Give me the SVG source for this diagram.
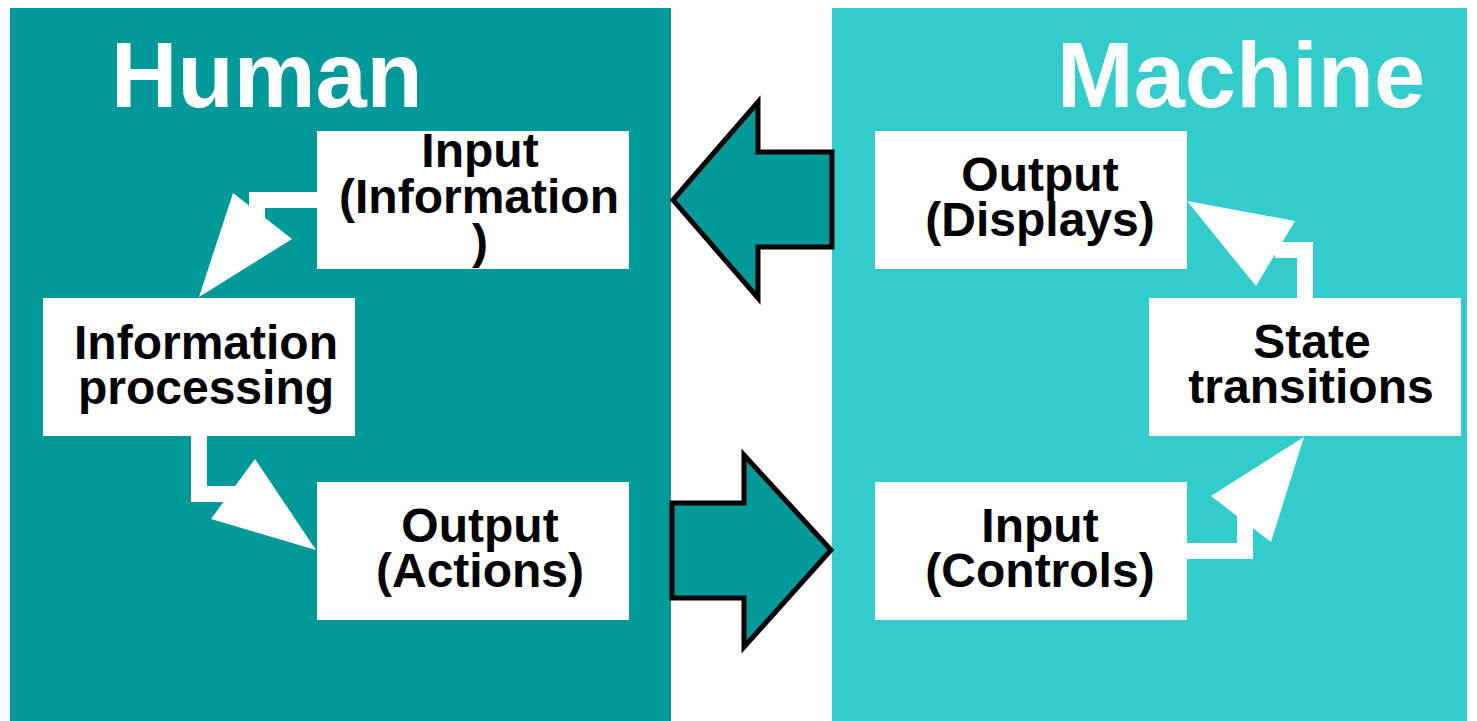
<svg xmlns="http://www.w3.org/2000/svg" width="1477" height="721" viewBox="0 0 1477 721">
  <style>
    .panel-h { fill: #009999; }
    .panel-m { fill: #33CCCC; }
    .title { font-family: "Liberation Sans", Arial, sans-serif; font-weight: bold; font-size: 92px; fill: #ffffff; }
    .box { fill: #ffffff; }
    .label { font-family: "Liberation Sans", Arial, sans-serif; font-weight: bold; font-size: 48px; fill: #000000; text-anchor: middle; }
    .flow { fill: #ffffff; stroke: none; }
    .big { fill: #009999; stroke: #000000; stroke-width: 5; stroke-linejoin: miter; }
  </style>

  <rect width="1477" height="721" fill="#ffffff"/>

  <!-- Side panels -->
  <g id="human-panel">
    <rect class="panel-h" x="10" y="8" width="661" height="713"/>
    <text class="title" x="111" y="107">Human</text>
  </g>
  <g id="machine-panel">
    <rect class="panel-m" x="832" y="8" width="635" height="713"/>
    <text class="title" x="1057" y="107">Machine</text>
  </g>

  <!-- Connectors -->
  <g id="connectors">
    <!-- Input (Information) to Information processing -->
    <path class="flow" d="M317,192 H249 V228 H265 V208 H317 Z"/>
    <polygon class="flow" points="233,193 292,239 199,297"/>
    <!-- Information processing to Output (Actions) -->
    <path class="flow" d="M191,436 V502 H235 V486 H207 V436 Z"/>
    <polygon class="flow" points="255,459 211,519 316,550"/>
    <!-- State transitions to Output (Displays) -->
    <path class="flow" d="M1297,298 V258 H1275 V242 H1313 V298 Z"/>
    <polygon class="flow" points="1187,201 1295,221 1256,286"/>
    <!-- Input (Controls) to State transitions -->
    <path class="flow" d="M1187,543 H1237 V508 H1253 V559 H1187 Z"/>
    <polygon class="flow" points="1211,496 1271,542 1304,437"/>
    <!-- Machine output to human input -->
    <polygon class="big" points="673,200 758,102 758,152 832,152 832,247 758,247 758,298"/>
    <!-- Human output to machine input -->
    <polygon class="big" points="672,503 744,503 744,455 831,550 744,647 744,598 672,598"/>
  </g>

  <!-- Human side nodes -->
  <g id="input-information">
    <rect class="box" x="317" y="131" width="312" height="138"/>
    <text class="label" x="480" y="167">Input</text>
    <text class="label" x="479" y="213">(Information</text>
    <text class="label" x="480" y="258">)</text>
  </g>
  <g id="information-processing">
    <rect class="box" x="43" y="298" width="312" height="138"/>
    <text class="label" x="206" y="359">Information</text>
    <text class="label" x="206" y="404">processing</text>
  </g>
  <g id="output-actions">
    <rect class="box" x="317" y="482" width="312" height="138"/>
    <text class="label" x="480" y="542">Output</text>
    <text class="label" x="480" y="587">(Actions)</text>
  </g>

  <!-- Machine side nodes -->
  <g id="output-displays">
    <rect class="box" x="875" y="131" width="312" height="138"/>
    <text class="label" x="1040" y="191">Output</text>
    <text class="label" x="1040" y="236">(Displays)</text>
  </g>
  <g id="state-transitions">
    <rect class="box" x="1149" y="298" width="312" height="138"/>
    <text class="label" x="1312" y="358">State</text>
    <text class="label" x="1311" y="403">transitions</text>
  </g>
  <g id="input-controls">
    <rect class="box" x="875" y="482" width="312" height="138"/>
    <text class="label" x="1040" y="542">Input</text>
    <text class="label" x="1040" y="587">(Controls)</text>
  </g>
</svg>
